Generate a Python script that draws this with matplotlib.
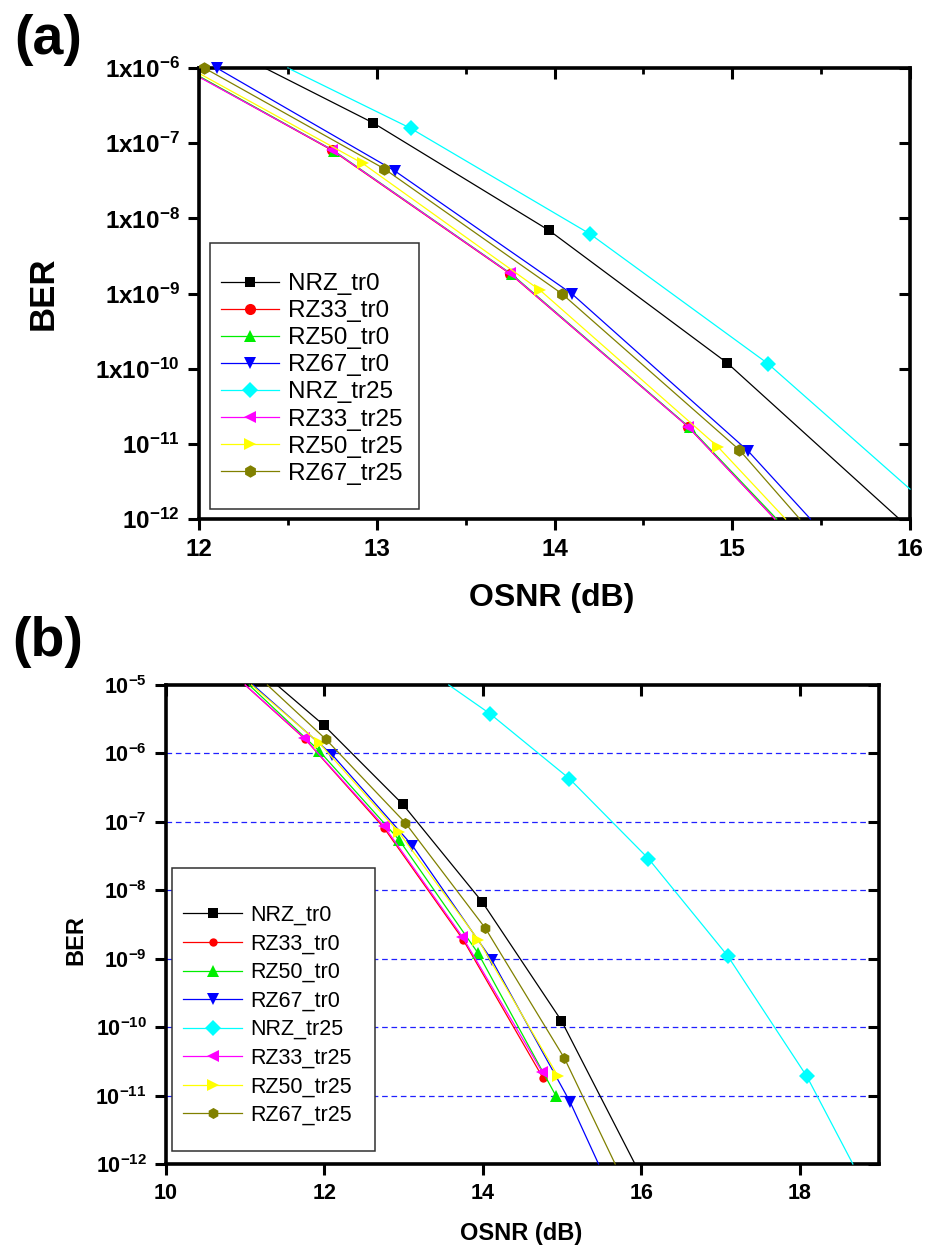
import matplotlib
matplotlib.use("Agg")
import matplotlib.pyplot as plt
from matplotlib.lines import Line2D
from matplotlib.patches import Rectangle
from matplotlib.ticker import FixedLocator, FixedFormatter, MultipleLocator, NullLocator

plt.rcParams['font.family'] = ['Liberation Sans', 'DejaVu Sans']
plt.rcParams['mathtext.default'] = 'regular'

# ---------------------------------------------------------------- data
labels = ['NRZ_tr0', 'RZ33_tr0', 'RZ50_tr0', 'RZ67_tr0',
          'NRZ_tr25', 'RZ33_tr25', 'RZ50_tr25', 'RZ67_tr25']

# panel (a): BER vs OSNR, curves run to the frame, markers on measured points
a_nrz_tr0_osnr = [12.37, 12.98, 13.97, 14.97, 15.94]
a_nrz_tr0_ber = [1e-6, 1.86e-7, 6.9e-9, 1.2e-10, 1e-12]
a_rz33_tr0_osnr = [12.0, 12.75, 13.75, 14.75, 15.24]
a_rz33_tr0_ber = [7.7e-7, 8.0e-8, 1.83e-9, 1.7e-11, 1e-12]
a_rz50_tr0_osnr = [12.0, 12.76, 13.76, 14.76, 15.25]
a_rz50_tr0_ber = [7.8e-7, 7.9e-8, 1.8e-9, 1.65e-11, 1e-12]
a_rz67_tr0_osnr = [12.1, 13.1, 14.1, 15.09, 15.44]
a_rz67_tr0_ber = [1e-6, 4.3e-8, 9.8e-10, 8.0e-12, 1e-12]
a_nrz_tr25_osnr = [12.5, 13.19, 14.2, 15.2, 16.0]
a_nrz_tr25_ber = [1e-6, 1.58e-7, 6.2e-9, 1.17e-10, 2.5e-12]
a_rz33_tr25_osnr = [12.0, 12.75, 13.75, 14.75, 15.24]
a_rz33_tr25_ber = [7.6e-7, 8.1e-8, 1.85e-9, 1.7e-11, 1e-12]
a_rz50_tr25_osnr = [12.0, 12.92, 13.92, 14.92, 15.3]
a_rz50_tr25_ber = [8.5e-7, 5.4e-8, 1.1e-9, 9.1e-12, 1e-12]
a_rz67_tr25_osnr = [12.03, 13.04, 14.04, 15.04, 15.38]
a_rz67_tr25_ber = [1e-6, 4.6e-8, 1.0e-9, 8.3e-12, 1e-12]
a_marked = [[1, 2, 3], [1, 2, 3], [1, 2, 3], [0, 1, 2, 3],
            [1, 2, 3], [1, 2, 3], [1, 2, 3], [0, 1, 2, 3]]

# panel (b)
b_nrz_tr0_osnr = [11.4, 11.99, 12.99, 13.99, 14.99, 15.92]
b_nrz_tr0_ber = [1e-5, 2.6e-6, 1.8e-7, 6.8e-9, 1.25e-10, 1e-12]
b_rz33_tr0_osnr = [11.0, 11.76, 12.75, 13.75, 14.76]
b_rz33_tr0_ber = [1e-5, 1.6e-6, 8.2e-8, 1.9e-9, 1.8e-11]
b_rz50_tr0_osnr = [11.05, 11.93, 12.94, 13.94, 14.92]
b_rz50_tr0_ber = [1e-5, 1.1e-6, 5.5e-8, 1.2e-9, 1.0e-11]
b_rz67_tr0_osnr = [11.1, 12.1, 13.11, 14.11, 15.1, 15.46]
b_rz67_tr0_ber = [1e-5, 9.5e-7, 4.5e-8, 9.7e-10, 8.1e-12, 1e-12]
b_nrz_tr25_osnr = [13.57, 14.09, 15.09, 16.09, 17.09, 18.09, 18.67]
b_nrz_tr25_ber = [1e-5, 3.8e-6, 4.3e-7, 2.9e-8, 1.1e-9, 1.9e-11, 1e-12]
b_rz33_tr25_osnr = [11.0, 11.74, 12.75, 13.74, 14.75]
b_rz33_tr25_ber = [1e-5, 1.7e-6, 8.7e-8, 2.1e-9, 2.2e-11]
b_rz50_tr25_osnr = [11.08, 11.94, 12.94, 13.94, 14.95]
b_rz50_tr25_ber = [1e-5, 1.4e-6, 7.0e-8, 1.9e-9, 1.9e-11]
b_rz67_tr25_osnr = [11.28, 12.02, 13.02, 14.03, 15.03, 15.67]
b_rz67_tr25_ber = [1e-5, 1.6e-6, 9.7e-8, 2.8e-9, 3.5e-11, 1e-12]
b_marked = [[1, 2, 3, 4], [1, 2, 3, 4], [1, 2, 3, 4], [1, 2, 3, 4],
            [1, 2, 3, 4, 5], [1, 2, 3, 4], [1, 2, 3, 4], [1, 2, 3, 4]]

a_xticks = [12, 13, 14, 15, 16]
a_yticks = [1e-6, 1e-7, 1e-8, 1e-9, 1e-10, 1e-11, 1e-12]
a_yticklabels = [r'$1x10^{-6}$', r'$1x10^{-7}$', r'$1x10^{-8}$', r'$1x10^{-9}$',
                 r'$1x10^{-10}$', r'$10^{-11}$', r'$10^{-12}$']
b_xticks = [10, 12, 14, 16, 18]
b_yticks = [1e-5, 1e-6, 1e-7, 1e-8, 1e-9, 1e-10, 1e-11, 1e-12]
b_yticklabels = [r'$10^{-5}$', r'$10^{-6}$', r'$10^{-7}$', r'$10^{-8}$',
                 r'$10^{-9}$', r'$10^{-10}$', r'$10^{-11}$', r'$10^{-12}$']
b_gridlines = [1e-6, 1e-7, 1e-8, 1e-9, 1e-10, 1e-11]

a_series = [(a_nrz_tr0_osnr, a_nrz_tr0_ber), (a_rz33_tr0_osnr, a_rz33_tr0_ber),
            (a_rz50_tr0_osnr, a_rz50_tr0_ber), (a_rz67_tr0_osnr, a_rz67_tr0_ber),
            (a_nrz_tr25_osnr, a_nrz_tr25_ber), (a_rz33_tr25_osnr, a_rz33_tr25_ber),
            (a_rz50_tr25_osnr, a_rz50_tr25_ber), (a_rz67_tr25_osnr, a_rz67_tr25_ber)]
b_series = [(b_nrz_tr0_osnr, b_nrz_tr0_ber), (b_rz33_tr0_osnr, b_rz33_tr0_ber),
            (b_rz50_tr0_osnr, b_rz50_tr0_ber), (b_rz67_tr0_osnr, b_rz67_tr0_ber),
            (b_nrz_tr25_osnr, b_nrz_tr25_ber), (b_rz33_tr25_osnr, b_rz33_tr25_ber),
            (b_rz50_tr25_osnr, b_rz50_tr25_ber), (b_rz67_tr25_osnr, b_rz67_tr25_ber)]

# ---------------------------------------------------------------- style
colors = ['#000000', '#ff0000', '#00ee00', '#0000ff',
          '#00ffff', '#ff00ff', '#ffff00', '#808000']
markers = ['s', 'o', '^', 'v', 'D', '<', '>', 'h']
msize_a = [7, 8, 9, 9, 8, 9, 9, 9]
msize_b = [7, 6, 9, 9, 8, 9, 9, 8]

W, H = 928, 1249
fig = plt.figure(figsize=(W / 100, H / 100), dpi=100)


def fx(px):
    return px / W


def fy(py):
    return 1 - py / H


def frame_axes(ax, xlim, ylim, xmajor, xminor, yticks, ylabels,
               tick_fs, xweight, yweight, pad):
    ax.set_xscale('linear')
    ax.set_yscale('log')
    ax.set_xlim(*xlim)
    ax.set_ylim(*ylim)
    ax.xaxis.set_major_locator(FixedLocator(xmajor))
    if xminor:
        ax.xaxis.set_minor_locator(MultipleLocator(xminor))
    else:
        ax.xaxis.set_minor_locator(NullLocator())
    ax.yaxis.set_major_locator(FixedLocator(yticks))
    ax.yaxis.set_major_formatter(FixedFormatter(ylabels))
    ax.yaxis.set_minor_locator(NullLocator())
    for s in ax.spines.values():
        s.set_linewidth(2.6)
    ax.tick_params(which='major', direction='out', length=8, width=2.2,
                   top=False, right=False, pad=pad)
    ax.tick_params(which='minor', direction='out', length=4, width=2.0,
                   top=False, right=False)
    for t in ax.get_xticklabels():
        t.set_fontsize(tick_fs)
        t.set_fontweight(xweight)
    for t in ax.get_yticklabels():
        t.set_fontsize(tick_fs)
        t.set_fontweight(yweight)

    # mirrored inward ticks on top and right
    top = ax.twiny()
    top.set_xlim(*xlim)
    top.xaxis.set_major_locator(FixedLocator(xmajor))
    if xminor:
        top.xaxis.set_minor_locator(MultipleLocator(xminor))
    top.tick_params(axis='x', which='major', direction='in', length=8,
                    width=2.2, labeltop=False)
    top.tick_params(axis='x', which='minor', direction='in', length=4,
                    width=2.0)
    right = ax.twinx()
    right.set_yscale('log')
    right.set_ylim(*ylim)
    right.yaxis.set_major_locator(FixedLocator(yticks))
    right.yaxis.set_minor_locator(NullLocator())
    right.tick_params(axis='y', which='major', direction='in', length=8,
                      width=2.2, labelright=False)
    for tw in (top, right):
        for s in tw.spines.values():
            s.set_visible(False)


def draw_series(ax, series, marked, msizes):
    for (x, y), c, m, ms, idx in zip(series, colors, markers, msizes, marked):
        ax.plot(x, y, color=c, lw=0.9, marker=m, markersize=ms,
                markevery=idx, markeredgewidth=0, clip_on=False, zorder=3)


def draw_legend(ax, anchor_px, box_px, fs, msizes, handlelength,
                spacing, textpad):
    handles = [Line2D([], [], color=c, lw=0.9, marker=m, markersize=ms,
                      markeredgewidth=0)
               for c, m, ms in zip(colors, markers, msizes)]
    x0, y0, x1, y1 = box_px
    ax.add_patch(Rectangle((fx(x0), fy(y1)), fx(x1) - fx(x0), fy(y0) - fy(y1),
                           transform=fig.transFigure, facecolor='white',
                           edgecolor='#303030', lw=1.1, zorder=4,
                           clip_on=False))
    leg = ax.legend(handles, labels, loc='upper left',
                    bbox_to_anchor=(fx(anchor_px[0]), fy(anchor_px[1])),
                    bbox_transform=fig.transFigure, frameon=False,
                    borderpad=0, borderaxespad=0, fontsize=fs,
                    handlelength=handlelength, handletextpad=textpad,
                    labelspacing=spacing, numpoints=1)
    leg.set_zorder(5)


# ---------------------------------------------------------------- panel (a)
ax_a = fig.add_axes([fx(199), fy(519), fx(910) - fx(199), fy(68) - fy(519)])
draw_series(ax_a, a_series, a_marked, msize_a)
frame_axes(ax_a, (12, 16), (1e-12, 1e-6), a_xticks, 0.5, a_yticks,
           a_yticklabels, 17.5, 'bold', 'bold', 6)
draw_legend(ax_a, (221, 273), (210, 243, 419, 509), 17.5, msize_a,
            2.4, 0.21, 0.35)
fig.text(fx(53), fy(293), 'BER', rotation=90, rotation_mode='anchor',
         ha='center', va='baseline', fontsize=25, fontweight='bold')
fig.text(fx(552), fy(606), 'OSNR (dB)', ha='center', va='baseline',
         fontsize=23, fontweight='bold')
fig.text(fx(48), fy(40), '(a)', ha='center', va='center', fontsize=40,
         fontweight='bold')

# ---------------------------------------------------------------- panel (b)
ax_b = fig.add_axes([fx(166), fy(1164), fx(879) - fx(166), fy(685) - fy(1164)])
for g in b_gridlines:
    ax_b.axhline(g, color='#2020ff', lw=0.9, ls=(0, (4.5, 3.0)), zorder=1)
draw_series(ax_b, b_series, b_marked, msize_b)
frame_axes(ax_b, (10, 19), (1e-12, 1e-5), b_xticks, None, b_yticks,
           b_yticklabels, 15.5, 'bold', 'bold', 6)
draw_legend(ax_b, (183, 905), (172, 868, 375, 1151), 15.5, msize_b,
            2.75, 0.35, 0.38)
fig.text(fx(82), fy(940), 'BER', rotation=90, rotation_mode='anchor',
         ha='center', va='baseline', fontsize=17, fontweight='bold')
fig.text(fx(521), fy(1240), 'OSNR (dB)', ha='center', va='baseline',
         fontsize=17, fontweight='bold')
fig.text(fx(48), fy(642), '(b)', ha='center', va='center', fontsize=40,
         fontweight='bold')

fig.savefig('out.png', dpi=100)
